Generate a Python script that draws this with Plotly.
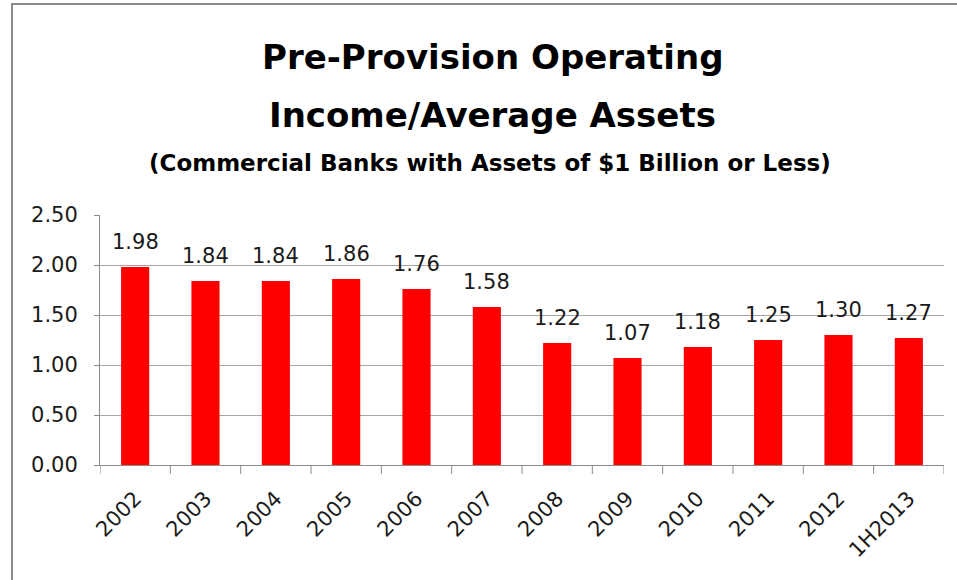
import plotly.graph_objects as go

# Pre-provision operating income as a share of average assets
categories = ["2002", "2003", "2004", "2005", "2006", "2007",
              "2008", "2009", "2010", "2011", "2012", "1H2013"]
ratios = [1.98, 1.84, 1.84, 1.86, 1.76, 1.58, 1.22, 1.07, 1.18, 1.25, 1.30, 1.27]
y_ticks = [0.0, 0.5, 1.0, 1.5, 2.0, 2.5]

W, H = 957, 580
ML, MR, MT, MB = 100, 13, 215, 115
PW, PH = W - ML - MR, H - MT - MB

FONT = "'DejaVu Sans', sans-serif"
positions = list(range(len(categories)))

fig = go.Figure()
fig.add_trace(go.Bar(
    x=positions, y=ratios,
    marker=dict(color="#ff0000", line=dict(width=0)),
    customdata=categories,
    hovertemplate="%{customdata}: %{y:.2f}<extra></extra>",
))

# value labels above each bar
for p, v in zip(positions, ratios):
    fig.add_annotation(
        x=p, y=v, text=f"{v:.2f}", showarrow=False,
        yanchor="middle", yshift=25,
        font=dict(family=FONT, size=21, color="#1a1a1a"),
    )

def paper_x(px):
    return (px - ML) / PW

def paper_y(py):
    return 1 + (MT - py) / PH

# titles
fig.add_annotation(
    xref="paper", yref="paper", x=paper_x(492), y=paper_y(57),
    text="<b>Pre-Provision Operating</b>", showarrow=False,
    xanchor="center", yanchor="middle",
    font=dict(family=FONT, size=34, color="#000"),
)
fig.add_annotation(
    xref="paper", yref="paper", x=paper_x(492), y=paper_y(115),
    text="<b>Income/Average Assets</b>", showarrow=False,
    xanchor="center", yanchor="middle",
    font=dict(family=FONT, size=34, color="#000"),
)
fig.add_annotation(
    xref="paper", yref="paper", x=paper_x(490), y=paper_y(163),
    text="<b>(Commercial Banks with Assets of $1 Billion or Less)</b>",
    showarrow=False, xanchor="center", yanchor="middle",
    font=dict(family=FONT, size=23, color="#000"),
)

# chart frame
fig.add_shape(
    type="rect", xref="paper", yref="paper", layer="below",
    x0=paper_x(12), x1=paper_x(W + 5),
    y0=paper_y(H + 5), y1=paper_y(4),
    line=dict(color="#8c8c8c", width=2), fillcolor="rgba(0,0,0,0)",
)

# category boundary tick marks below the x axis
for i in range(len(categories) + 1):
    fig.add_shape(
        type="line", xref="x", yref="paper",
        x0=i - 0.5, x1=i - 0.5, y0=0, y1=-9 / PH,
        line=dict(color="#8c8c8c", width=1),
    )

fig.update_layout(
    width=W, height=H,
    margin=dict(l=ML, r=MR, t=MT, b=MB),
    paper_bgcolor="white", plot_bgcolor="white",
    bargap=0.6, showlegend=False,
    font=dict(family=FONT, color="#1a1a1a"),
)
fig.update_xaxes(
    range=[-0.5, len(categories) - 0.5],
    tickvals=positions, ticktext=categories, tickangle=-45,
    tickfont=dict(family=FONT, size=21, color="#1a1a1a"),
    ticklabelstandoff=12,
    showline=True, linecolor="#8c8c8c", linewidth=1,
    ticks="", showgrid=False, zeroline=False,
)
fig.update_yaxes(
    range=[0, 2.5], tickvals=y_ticks,
    ticktext=[f"{t:.2f}" for t in y_ticks],
    tickfont=dict(family=FONT, size=21, color="#1a1a1a"),
    ticklabelstandoff=12,
    showgrid=True, gridcolor="#a6a6a6", gridwidth=1,
    showline=True, linecolor="#8c8c8c", linewidth=1,
    ticks="outside", ticklen=5, tickcolor="#8c8c8c",
    zeroline=False,
)

fig.write_html("out.html")
